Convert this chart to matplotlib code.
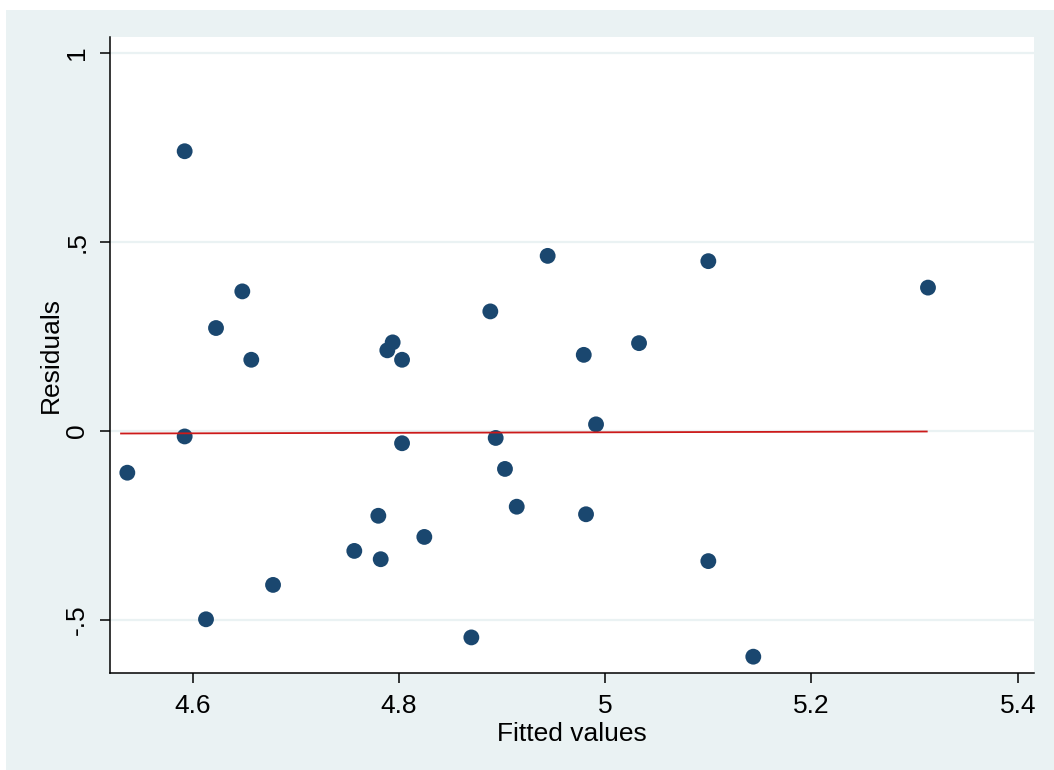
import matplotlib.pyplot as plt
from matplotlib.patches import Rectangle
import numpy as np

plt.rcParams['font.family'] = ['Liberation Sans', 'DejaVu Sans']

# fitted values and residuals
fitted = [4.5366, 4.5922, 4.5922, 4.6129, 4.6226, 4.6481, 4.6568, 4.6779,
          4.7567, 4.7800, 4.7823, 4.7887, 4.7939, 4.8030, 4.8030, 4.8246,
          4.8702, 4.8886, 4.8938, 4.9028, 4.9142, 4.9442, 4.9792, 4.9814,
          4.9911, 5.0328, 5.1000, 5.1000, 5.1436, 5.3130]
resid = [-0.111, 0.740, -0.015, -0.499, 0.272, 0.369, 0.188, -0.408,
         -0.318, -0.225, -0.340, 0.213, 0.234, 0.188, -0.033, -0.281,
         -0.547, 0.316, -0.019, -0.101, -0.201, 0.463, 0.201, -0.221,
         0.017, 0.232, 0.449, -0.345, -0.598, 0.379]

# linear fit line end points
fit_x = [4.5305, 5.3118]
fit_y = [-0.0072, -0.0019]

xticks = [4.6, 4.8, 5.0, 5.2, 5.4]
xtick_labels = ['4.6', '4.8', '5', '5.2', '5.4']
yticks = [-0.5, 0, 0.5, 1]
ytick_labels = ['-.5', '0', '.5', '1']

bg = '#EAF2F3'
navy = '#1a476f'

fig = plt.figure(figsize=(10.54, 7.70), dpi=100, facecolor='white')
# light blue graph region (thin white strip at top/left as in the screenshot)
fig.add_artist(Rectangle((6 / 1054, 0), 1, 760 / 770, transform=fig.transFigure,
                         facecolor=bg, edgecolor='none', zorder=-10))

ax = fig.add_axes([110 / 1054, 97 / 770, 924 / 1054, 636 / 770])
ax.set_zorder(1)
ax.set_facecolor('white')

ax.scatter(fitted, resid, s=130, color=navy, edgecolors='none', zorder=3)
ax.plot(fit_x, fit_y, color='#cc1a1a', lw=1.3, zorder=4)

ax.set_xlim(4.5198, 5.4158)
ax.set_ylim(-0.6412, 1.0424)

ax.set_xticks(xticks)
ax.set_xticklabels(xtick_labels)
ax.set_yticks(yticks)
ax.set_yticklabels(ytick_labels, rotation=90, va='center')

ax.yaxis.grid(True, color=bg, lw=1.6, zorder=0)
ax.xaxis.grid(False)
ax.set_axisbelow(True)

for s in ['top', 'right']:
    ax.spines[s].set_visible(False)
for s in ['left', 'bottom']:
    ax.spines[s].set_linewidth(1.1)
    ax.spines[s].set_color('black')

ax.tick_params(axis='both', direction='out', length=7, width=1.1, labelsize=19, pad=8)

ax.set_xlabel('Fitted values', fontsize=19, labelpad=3)
ax.set_ylabel('Residuals', fontsize=19, labelpad=2)

fig.savefig('out.png', dpi=100, facecolor=fig.get_facecolor())
